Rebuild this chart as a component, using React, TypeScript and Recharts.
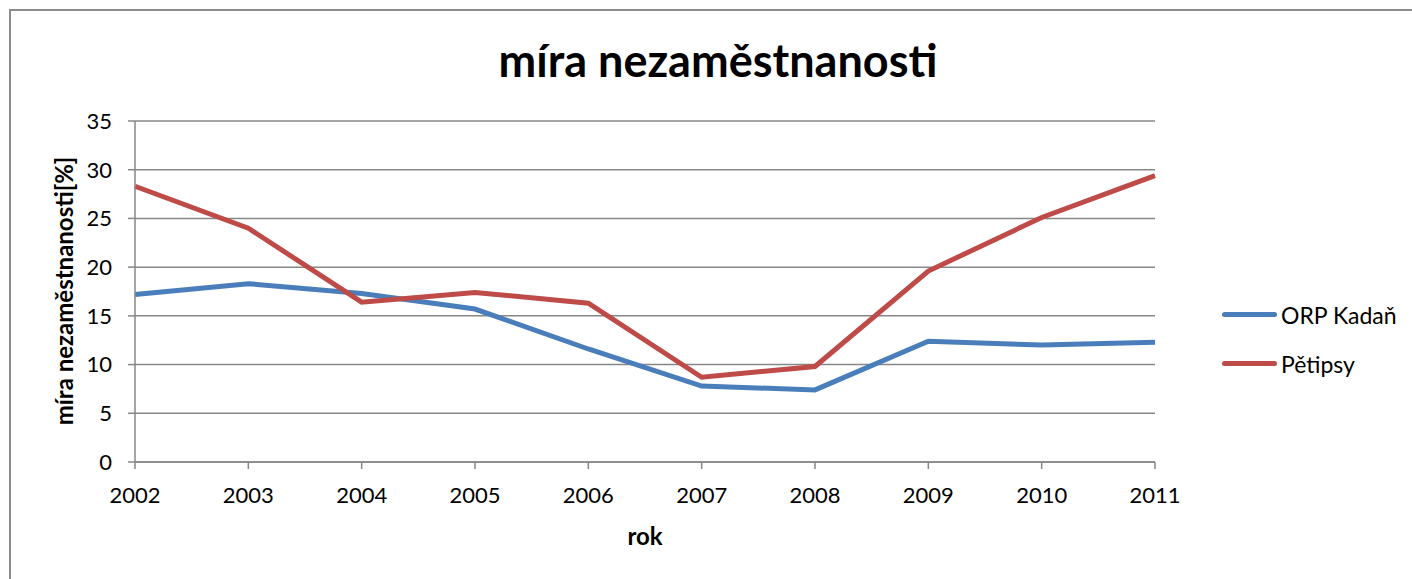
import React from 'react';
import { LineChart, Line, XAxis, YAxis, CartesianGrid, Label } from 'recharts';

const years = ['2002', '2003', '2004', '2005', '2006', '2007', '2008', '2009', '2010', '2011'];
const kadan = [17.2, 18.3, 17.3, 15.7, 11.6, 7.8, 7.4, 12.4, 12.0, 12.3];
const petipsy = [28.3, 24.0, 16.4, 17.4, 16.3, 8.7, 9.8, 19.6, 25.1, 29.4];
const yTicks = [0, 5, 10, 15, 20, 25, 30, 35];

const seriesNames = ['ORP Kadaň', 'Pětipsy'];
const colors = ['#4A7EBB', '#BE4B48'];

const data = years.map((y, i) => ({ year: y, kadan: kadan[i], petipsy: petipsy[i] }));

const FONT = 'Lato, "Open Sans", sans-serif';
const GRID = '#878787';

function LegendBox() {
  return (
    <div style={{ position: 'absolute', left: 1222, top: 290, fontFamily: FONT }}>
      {seriesNames.map((n, i) => (
        <div key={n} style={{ display: 'flex', alignItems: 'center', height: 49 }}>
          <div style={{ width: 55, height: 5, borderRadius: 3, background: colors[i], marginRight: 4 }} />
          <span style={{ fontSize: 23, color: '#000' }}>{n}</span>
        </div>
      ))}
    </div>
  );
}

export default function App() {
  return (
    <div style={{ position: 'absolute', left: 0, top: 0, width: 1412, height: 579, overflow: 'hidden', background: '#fff' }}>
      <div style={{ position: 'absolute', left: 9, top: 9, width: 1600, height: 800, border: '2px solid #8c8c8c' }} />
      <div style={{ position: 'absolute', left: 0, width: 1436, top: 33, textAlign: 'center', fontFamily: FONT, fontWeight: 700, fontSize: 45, color: '#000' }}>
        míra nezaměstnanosti
      </div>
      <div style={{ position: 'absolute', left: 0, top: 0 }}>
        <LineChart width={1412} height={579} data={data} margin={{ top: 121, right: 257, left: 75, bottom: 87 }}>
          <CartesianGrid vertical={false} stroke={GRID} strokeWidth={1.5} />
          <XAxis
            dataKey="year"
            height={30}
            padding={{ left: 0, right: 0 }}
            tick={{ fontSize: 22, fill: '#000', fontFamily: FONT }}
            tickSize={7}
            tickMargin={18}
            stroke={GRID}
            strokeWidth={1.5}
            interval={0}
          >
            <Label
              content={() => (
                <text x={645} y={545} textAnchor="middle" fontFamily={FONT} fontWeight={700} fontSize={24} fill="#000">rok</text>
              )}
            />
          </XAxis>
          <YAxis
            width={60}
            domain={[0, 35]}
            ticks={yTicks}
            interval={0}
            tick={{ fontSize: 22, fill: '#000', fontFamily: FONT }}
            tickSize={7}
            tickMargin={16}
            stroke={GRID}
            strokeWidth={1.5}
          >
            <Label
              content={() => (
                <text x={73} y={291} transform="rotate(-90 73 291)" textAnchor="middle" fontFamily={FONT} fontWeight={700} fontSize={24} fill="#000">míra nezaměstnanosti[%]</text>
              )}
            />
          </YAxis>
          <Line type="linear" dataKey="kadan" name={seriesNames[0]} stroke={colors[0]} strokeWidth={5} dot={false} isAnimationActive={false} />
          <Line type="linear" dataKey="petipsy" name={seriesNames[1]} stroke={colors[1]} strokeWidth={5} dot={false} isAnimationActive={false} />
        </LineChart>
      </div>
      <LegendBox />
    </div>
  );
}
